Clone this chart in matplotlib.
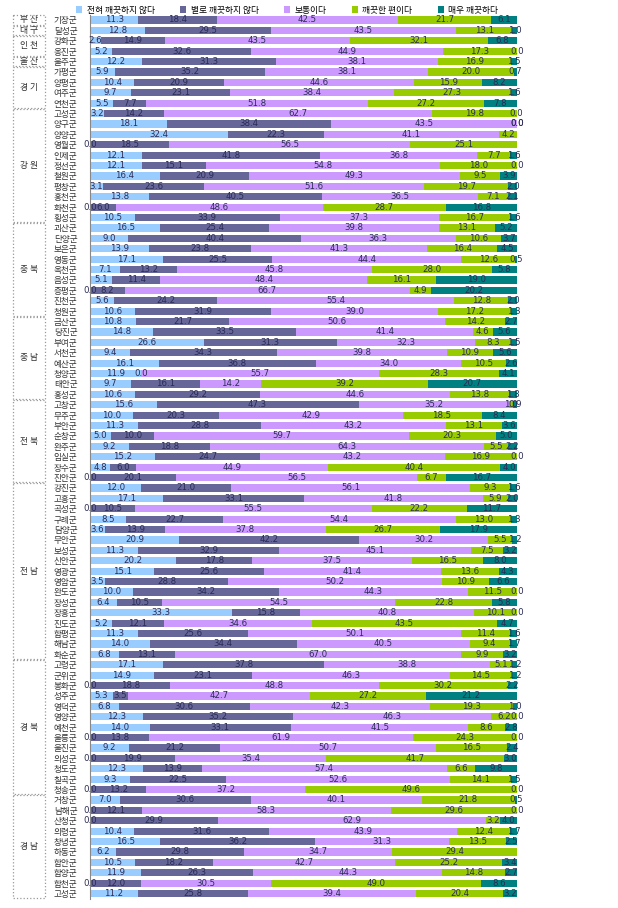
import matplotlib
matplotlib.use("Agg")
import matplotlib.pyplot as plt
import matplotlib.transforms as mtransforms
from matplotlib.patches import Rectangle
import numpy as np

plt.rcParams["font.family"] = ["Noto Sans CJK KR", "DejaVu Sans"]

# response categories (legend order)
categories = ["전혀 깨끗하지 않다", "별로 깨끗하지 않다", "보통이다", "깨끗한 편이다", "매우 깨끗하다"]
colors = ["#99CCFF", "#666699", "#CC99FF", "#99CC00", "#008080"]

counties = [
    "기장군", "달성군", "강화군", "옹진군", "울주군",
    "가평군", "양평군", "여주군", "연천군",
    "고성군", "양구군", "양양군", "영월군", "인제군", "정선군", "철원군", "평창군", "홍천군", "화천군", "횡성군",
    "괴산군", "단양군", "보은군", "영동군", "옥천군", "음성군", "증평군", "진천군", "청원군",
    "금산군", "당진군", "부여군", "서천군", "예산군", "청양군", "태안군", "홍성군",
    "고창군", "무주군", "부안군", "순창군", "완주군", "임실군", "장수군", "진안군",
    "강진군", "고흥군", "곡성군", "구례군", "담양군", "무안군", "보성군", "신안군", "영광군",
    "영암군", "완도군", "장성군", "장흥군", "진도군", "함평군", "해남군", "화순군",
    "고령군", "군위군", "봉화군", "성주군", "영덕군", "영양군", "예천군", "울릉군", "울진군",
    "의성군", "청도군", "칠곡군", "청송군",
    "거창군", "남해군", "산청군", "의령군", "창녕군", "하동군", "함안군", "함양군", "합천군", "고성군",
]

# provinces and how many counties belong to each (top to bottom)
provinces = ["부 산", "대 구", "인 천", "울 산", "경 기", "강 원", "충 북", "충 남", "전 북", "전 남", "경 북", "경 남"]
province_sizes = [1, 1, 2, 1, 4, 11, 9, 8, 8, 17, 13, 10]

nan = np.nan
very_dirty = [11.3, 12.8, 2.6, 5.2, 12.2, 5.9, 10.4, 9.7, 5.5,
              3.2, 18.1, 32.4, 0.0, 12.1, 12.1, 16.4, 3.1, 13.8, 0.0, 10.5,
              16.5, 9.0, 13.9, 17.1, 7.1, 5.1, 0.0, 5.6, 10.6,
              10.8, 14.8, 26.6, 9.4, 16.1, 11.9, 9.7, 10.6,
              15.6, 10.0, 11.3, 5.0, 9.2, 15.2, 4.8, 0.0,
              12.0, 17.1, 0.0, 8.5, 3.6, 20.9, 11.3, 20.2, 15.1, 3.5, 10.0, 6.4, 33.3, 5.2, 11.3, 14.0, 6.8,
              17.1, 14.9, 0.0, 5.3, 6.8, 12.3, 14.0, 0.0, 9.2, 0.0, 12.3, 9.3, 0.0,
              7.0, 0.0, 0.0, 10.4, 16.5, 6.2, 10.5, 11.9, 0.0, 11.2]
dirty = [18.4, 29.5, 14.9, 32.6, 31.3, 35.2, 20.9, 23.1, 7.7,
         14.2, 38.4, 22.3, 18.5, 41.8, 15.1, 20.9, 23.6, 40.5, 6.0, 33.9,
         25.4, 40.4, 23.8, 25.5, 13.2, 11.4, 8.2, 24.2, 31.9,
         21.7, 33.5, 31.3, 34.3, 36.8, 0.0, 16.1, 29.2,
         47.3, 20.3, 28.8, 10.0, 18.8, 24.7, 6.0, 20.1,
         21.0, 33.1, 10.5, 22.7, 13.9, 42.2, 32.9, 17.8, 25.6, 28.8, 34.2, 10.5, 15.8, 12.1, 25.6, 34.4, 13.1,
         37.8, 23.1, 18.8, 3.5, 30.6, 35.2, 33.1, 13.8, 21.2, 19.9, 13.9, 22.5, 13.2,
         30.6, 12.1, 29.9, 31.6, 36.2, 29.8, 18.2, 26.3, 12.0, 25.8]
normal = [42.5, 43.5, 43.5, 44.9, 38.1, 38.1, 44.6, 38.4, 51.8,
          62.7, 43.5, 41.1, 56.5, 36.8, 54.8, 49.3, 51.6, 36.5, 48.6, 37.3,
          39.8, 36.3, 41.3, 44.4, 45.8, 48.4, 66.7, 55.4, 39.0,
          50.6, 41.4, 32.3, 39.8, 34.0, 55.7, 14.2, 44.6,
          35.2, 42.9, 43.2, 59.7, 64.3, 43.2, 44.9, 56.5,
          56.1, 41.8, 55.5, 54.4, 37.8, 30.2, 45.1, 37.5, 41.4, 50.2, 44.3, 54.5, 40.8, 34.6, 50.1, 40.5, 67.0,
          38.8, 46.3, 48.8, 42.7, 42.3, 46.3, 41.5, 61.9, 50.7, 35.4, 57.4, 52.6, 37.2,
          40.1, 58.3, 62.9, 43.9, 31.3, 34.7, 42.7, 44.3, 30.5, 39.4]
clean = [21.7, 13.1, 32.1, 17.3, 16.9, 20.0, 15.9, 27.3, 27.2,
         19.8, 0.0, 4.2, 25.1, 7.7, 18.0, 9.5, 19.7, 7.1, 28.7, 16.7,
         13.1, 10.6, 16.4, 12.6, 28.0, 16.1, 4.9, 12.8, 17.2,
         14.2, 4.6, 8.3, 10.9, 10.5, 28.3, 39.2, 13.8,
         1.0, 18.5, 13.1, 20.3, 5.5, 16.9, 40.4, 6.7,
         9.3, 5.9, 22.2, 13.0, 26.7, 5.5, 7.5, 16.5, 13.6, 10.9, 11.5, 22.8, 10.1, 43.5, 11.4, 9.4, 9.9,
         5.1, 14.5, 30.2, 27.2, 19.3, 6.2, 8.6, 24.3, 16.5, 41.7, 6.6, 14.1, 49.6,
         21.8, 29.6, 3.2, 12.4, 13.5, 29.4, 25.2, 14.8, 49.0, 20.4]
very_clean = [6.1, 1.0, 6.8, 0.0, 1.5, 0.7, 8.2, 1.6, 7.8,
              0.0, 0.0, nan, nan, 1.6, 0.0, 3.9, 2.0, 2.1, 16.8, 1.6,
              5.2, 3.7, 4.5, 0.5, 5.8, 19.0, 20.2, 2.0, 1.3,
              2.7, 5.6, 1.5, 5.6, 2.6, 4.1, 20.7, 1.8,
              0.9, 8.4, 3.6, 5.0, 2.2, 0.0, 4.0, 16.7,
              1.6, 2.0, 11.7, 1.3, 17.9, 1.2, 3.2, 8.0, 4.3, 6.6, 0.0, 5.8, 0.0, 4.7, 1.6, 1.7, 3.2,
              1.2, 1.2, 2.2, 21.2, 1.0, 0.0, 2.8, 0.0, 2.4, 3.0, 9.8, 1.5, 0.0,
              0.5, 0.0, 4.0, 1.7, 2.5, nan, 3.4, 2.7, 8.6, 3.2]

series = [very_dirty, dirty, normal, clean, very_clean]

fig = plt.figure(figsize=(6.18, 9.08), dpi=100)
W, H = 618, 908
n = len(counties)
pitch = 10.4
top_px = 20 - pitch / 2
ax = fig.add_axes([90 / W, 1 - (top_px + n * pitch) / H, 427 / W, n * pitch / H])

y = np.arange(n)
left = np.zeros(n)
for name, vals, col in zip(categories, series, colors):
    v = np.array(vals, dtype=float)
    w = np.nan_to_num(v)
    ax.barh(y, w, left=left, height=0.68, color=col, label=name, linewidth=0)
    for i in range(n):
        if np.isnan(v[i]):
            continue
        ax.text(left[i] + w[i] / 2, y[i], f"{v[i]:.1f}", ha="center", va="center",
                fontsize=6.2, color="#2b2b55", family="DejaVu Sans")
    left += w

ax.set_xlim(0, 100)
ax.set_ylim(n - 0.5, -0.5)
ax.set_yticks(y)
ax.set_yticklabels(counties, fontsize=6.2, color="#333333")
ax.tick_params(axis="y", length=0, pad=9)
ax.set_xticks([])
for s in ["top", "right", "bottom"]:
    ax.spines[s].set_visible(False)
ax.spines["left"].set_color("#888888")
ax.spines["left"].set_linewidth(0.8)

# province boxes on the far left
trans = mtransforms.blended_transform_factory(fig.transFigure, ax.transData)
start = 0
for prov, size in zip(provinces, province_sizes):
    y0 = start - 0.45
    box = Rectangle((13 / W, y0), 32 / W, size - 0.1, transform=trans, fill=False,
                    edgecolor="#999999", linestyle=":", linewidth=0.9, clip_on=False)
    ax.add_patch(box)
    ax.text(29 / W, start + (size - 1) / 2, prov, transform=trans, ha="center", va="center",
            fontsize=6.3, color="#333333", clip_on=False)
    start += size

fig.legend(loc="center", bbox_to_anchor=(0.465, 1 - 10 / H), ncol=5, frameon=False,
           fontsize=6.3, handlelength=0.7, handleheight=0.7, handletextpad=0.5,
           columnspacing=2.9, borderaxespad=0)

fig.savefig("out.png", dpi=100)
